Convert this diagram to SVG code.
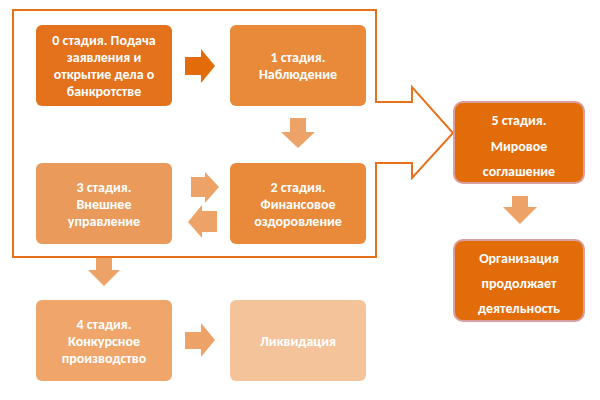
<svg xmlns="http://www.w3.org/2000/svg" width="600" height="400" viewBox="0 0 600 400">
<style>
text{font-family:Calibri,"Carlito","Liberation Sans",sans-serif;font-size:14px;font-weight:bold;fill:#fff;text-anchor:middle}
.n0{fill:#E4711C}.n1{fill:#E98A3A}.n2{fill:#EA9B5C}.n4{fill:#F0A56A}.n5{fill:#F5C39A}
.c{fill:#E36C0A;stroke:#D8A0A0;stroke-width:2}
</style>
<rect width="600" height="400" fill="#fff"/>
<g id="connectors">
<path d="M13,10H376V102H412V87L453,133L412,178V163H376V257H13Z" fill="none" stroke="#E8711B" stroke-width="2"/>
<path d="M185,57H201V49L215,66L201,83V75H185Z" fill="#E36C0A"/>
<path d="M290,118H306V132H315L298,148L281,132H290Z" fill="#EDA368"/>
<path d="M191,177H205V172L219,187L205,203V197H191Z" fill="#EDA368"/>
<path d="M217,211H202V205L188,222L202,238V232H217Z" fill="#EDA368"/>
<path d="M96,258H112V270H120L104,286L88,270H96Z" fill="#EDA368"/>
<path d="M185,332H201V323L215,340L201,357V349H185Z" fill="#EDA368"/>
<path d="M512,196H528V207H537L520,224L503,207H512Z" fill="#EDA368"/>
</g>
<g id="n0"><rect class="n0" x="36" y="25" width="136" height="81" rx="6"/><text x="104" y="45">0 стадия. Подача</text><text x="104" y="62">заявления и</text><text x="104" y="79">открытие дела о</text><text x="104" y="96">банкротстве</text></g>
<g id="n1"><rect class="n1" x="230" y="25" width="136" height="81" rx="6"/><text x="298" y="62">1 стадия.</text><text x="298" y="79">Наблюдение</text></g>
<g id="n3"><rect class="n2" x="36" y="163" width="136" height="81" rx="6"/><text x="104" y="192">3 стадия.</text><text x="104" y="209">Внешнее</text><text x="104" y="226">управление</text></g>
<g id="n2"><rect class="n1" x="230" y="163" width="136" height="81" rx="6"/><text x="298" y="192">2 стадия.</text><text x="298" y="209">Финансовое</text><text x="298" y="226">оздоровление</text></g>
<g id="n4"><rect class="n4" x="36" y="300" width="136" height="81" rx="6"/><text x="104" y="329">4 стадия.</text><text x="104" y="346">Конкурсное</text><text x="104" y="363">производство</text></g>
<g id="n6"><rect class="n5" x="230" y="300" width="136" height="81" rx="6"/><text x="298" y="346">Ликвидация</text></g>
<g id="n5"><rect class="c" x="454" y="102" width="130" height="81" rx="9"/><text x="519" y="125">5 стадия.</text><text x="519" y="151">Мировое</text><text x="519" y="176">соглашение</text></g>
<g id="n7"><rect class="c" x="454" y="240" width="130" height="81" rx="9"/><text x="519" y="263">Организация</text><text x="519" y="288">продолжает</text><text x="519" y="313">деятельность</text></g>
</svg>
